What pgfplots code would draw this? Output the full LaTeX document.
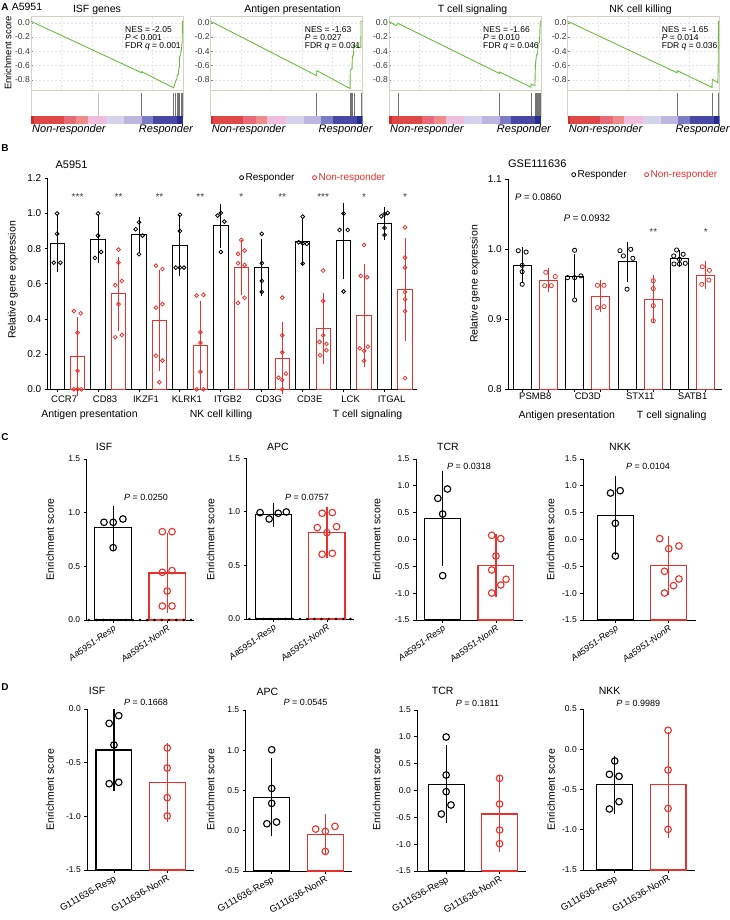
\documentclass[border=0pt]{standalone}
\usepackage{pgfplots}
\pgfplotsset{compat=1.18}
\usepackage{fontspec}
\setmainfont{Liberation Sans}
\definecolor{myred}{HTML}{E8312C}
\definecolor{gsgreen}{HTML}{6ABD3C}
\definecolor{frm}{HTML}{D6D1C2}
\definecolor{cb1}{HTML}{D42A2A}
\definecolor{cb2}{HTML}{E04848}
\definecolor{cb3}{HTML}{E86A78}
\definecolor{cb4}{HTML}{EE8C8C}
\definecolor{cb5}{HTML}{F0BEDC}
\definecolor{cb6}{HTML}{D6D4EC}
\definecolor{cb7}{HTML}{BDB6DE}
\definecolor{cb8}{HTML}{7C7CC6}
\definecolor{cb9}{HTML}{4A48A6}
\definecolor{cb10}{HTML}{262C90}
\newcommand\fs[1]{\fontsize{#1}{#1}\selectfont}
\newcommand\bbar[3]{\pgfmathsetmacro\xa{#1-\bw}\pgfmathsetmacro\xb{#1+\bw}%
 \edef\next{\noexpand\addplot[fill=white, draw=#3, line width=\blw, forget plot] coordinates {(\xa,\bbase) (\xa,#2) (\xb,#2) (\xb,\bbase) (\xa,\bbase)};}\next}
\newcommand\ebar[4]{\addplot[draw=#4, mark=none, forget plot, error bars/.cd, y dir=both, y explicit, error bar style={draw=#4, line width=\blw}, error mark options={draw=#4, line width=\blw, mark size=\capw}] coordinates {(#1,#2) +- (0,#3)};}
\newcommand\pts[2]{\addplot[only marks, mark=o, mark size=\ms, draw=#1, mark options={draw=#1, line width=\mlw}, forget plot] coordinates {#2};}
\newcommand\cb[3]{\addplot[fill=#3, draw=none] coordinates {(#1,0) (#2,0) (#2,1) (#1,1)};}
\newcommand\cbarplots{\cb{0}{0.018}{cb1}\cb{0.018}{0.215}{cb2}\cb{0.215}{0.298}{cb3}\cb{0.298}{0.373}{cb4}\cb{0.373}{0.496}{cb5}\cb{0.496}{0.614}{cb6}\cb{0.614}{0.728}{cb7}\cb{0.728}{0.803}{cb8}\cb{0.803}{0.961}{cb9}\cb{0.961}{1}{cb10}}
\newcommand\axisdots{\addplot[only marks, mark=*, mark size=1.1pt, black, forget plot] coordinates {(-0.45,0)(-0.315,0)(-0.18,0)(-0.045,0)(0.09,0)(0.225,0)(0.36,0)(0.495,0)(0.63,0)(0.765,0)(0.9,0)(1.035,0)(1.17,0)(1.305,0)(1.44,0)};}
\pgfplotsset{
 gsea/.style={scale only axis, anchor=south west, width=152pt, height=74.7pt, xmin=0, xmax=1, ymin=-0.95, ymax=0.094,
  axis line style={draw=frm, line width=0.7pt}, xtick={0.2,0.4,0.6,0.8}, xticklabels={}, xtick style={draw=none},
  ytick={-0.8,-0.6,-0.4,-0.2,0}, ytick pos=left, ytick style={draw=black!50, line width=0.4pt}, major tick length=2pt,
  yticklabel style={font=\fs{8.5}, text=black!80, /pgf/number format/fixed, /pgf/number format/fixed zerofill, /pgf/number format/precision=1, inner sep=1pt},
  /pgf/number format/assume math mode=true,
  grid=major, grid style={gray!20, dash pattern=on 2pt off 2pt}},
 hits/.style={scale only axis, anchor=south west, width=152pt, height=25.3pt, xmin=0, xmax=1, ymin=0, ymax=1, xtick=\empty, ytick=\empty, axis line style={draw=frm, line width=0.7pt}},
 cbar/.style={scale only axis, anchor=south west, width=152pt, height=8pt, xmin=0, xmax=1, ymin=0, ymax=1, hide axis},
 bstyle/.style={scale only axis, anchor=south west, axis x line*=bottom, axis y line*=left,
  axis line style={black, line width=0.9pt, -}, every tick/.style={black, line width=0.9pt}, tick align=outside, major tick length=3pt,
  clip=false, /pgf/number format/assume math mode=true,
  yticklabel style={/pgf/number format/fixed, /pgf/number format/fixed zerofill, /pgf/number format/precision=1}},
 cstyle/.style={bstyle, xtick={0,1}, yticklabel style={font=\fs{8.5}}},
 cticks/.style={xticklabels={Aa5951-Resp,Aa5951-NonR}, xticklabel style={font=\fs{9}\itshape, rotate=35, anchor=north east, inner sep=1pt}},
 dticks/.style={xticklabels={G111636-Resp,G111636-NonR}, xticklabel style={font=\fs{9.5}, rotate=30, anchor=north east, inner sep=1pt}}
}
\begin{document}
\begin{tikzpicture}
\useasboundingbox (0pt,0pt) rectangle (729pt,920pt);
% ===================== A =====================
\begin{axis}[gsea, at={(31pt,829.3pt)}]
\addplot[gsgreen, line width=0.9pt] coordinates {(0,0.02)(0.728,-0.70)(0.729,-0.685)(0.939,-0.91)(0.945,-0.86)(0.955,-0.80)(0.96,-0.78)(0.962,-0.73)(0.97,-0.72)(0.972,-0.65)(0.976,-0.62)(0.978,-0.48)(0.985,-0.45)(0.986,-0.40)(0.99,-0.38)(0.995,-0.25)(0.996,0.02)(1,0.02)};
\end{axis}
\begin{axis}[hits, at={(31pt,804pt)}]
\addplot[ycomb, gray!45, line width=0.6pt] coordinates {(0.445,0.9)};
\addplot[ycomb, black!55, line width=0.6pt] coordinates {(0.728,0.9)(0.939,0.9)(0.95,0.9)(0.961,0.9)(0.971,0.9)(0.978,0.9)(0.987,0.9)(0.996,0.9)};
\end{axis}
\begin{axis}[cbar, at={(31pt,796pt)}]\cbarplots\end{axis}

\begin{axis}[gsea, at={(210.7pt,829.3pt)}]
\addplot[gsgreen, line width=0.9pt] coordinates {(0,0.02)(0.697,-0.74)(0.698,-0.67)(0.917,-0.92)(0.918,-0.66)(0.93,-0.64)(0.932,-0.47)(0.94,-0.45)(0.942,-0.32)(0.955,-0.33)(0.96,-0.31)(0.975,-0.35)(0.988,-0.35)(0.989,0.02)(1,0.02)};
\end{axis}
\begin{axis}[hits, at={(210.7pt,804pt)}]
\addplot[ycomb, black!55, line width=0.6pt] coordinates {(0.697,0.9)(0.917,0.9)(0.928,0.9)(0.934,0.9)(0.943,0.9)(0.99,0.9)};
\end{axis}
\begin{axis}[cbar, at={(210.7pt,796pt)}]\cbarplots\end{axis}

\begin{axis}[gsea, at={(389pt,829.3pt)}]
\addplot[gsgreen, line width=0.9pt] coordinates {(0,0.02)(0.045,-0.04)(0.06,-0.01)(0.727,-0.71)(0.728,-0.69)(0.934,-0.90)(0.935,-0.86)(0.96,-0.88)(0.963,-0.60)(0.97,-0.45)(0.978,-0.44)(0.98,-0.29)(0.99,-0.28)(0.995,0.02)(1,0.02)};
\end{axis}
\begin{axis}[hits, at={(389pt,804pt)}]
\addplot[ycomb, black!55, line width=0.6pt] coordinates {(0.06,0.9)(0.727,0.9)(0.935,0.9)(0.96,0.9)(0.97,0.9)(0.975,0.9)(0.98,0.9)(0.99,0.9)(0.995,0.9)};
\end{axis}
\begin{axis}[cbar, at={(389pt,796pt)}]\cbarplots\end{axis}

\begin{axis}[gsea, at={(567.7pt,829.3pt)}]
\addplot[gsgreen, line width=0.9pt] coordinates {(0,0.02)(0.72,-0.70)(0.721,-0.67)(0.95,-0.905)(0.951,-0.79)(0.988,-0.84)(0.99,-0.60)(0.992,0.02)(1,0.02)};
\end{axis}
\begin{axis}[hits, at={(567.7pt,804pt)}]
\addplot[ycomb, black!55, line width=0.6pt] coordinates {(0.72,0.9)(0.95,0.9)(0.988,0.9)(0.992,0.9)};
\end{axis}
\begin{axis}[cbar, at={(567.7pt,796pt)}]\cbarplots\end{axis}

\node[font=\fs{10}\bfseries] at (5pt,913pt) {A};
\node[font=\fs{10.5}] at (27pt,913pt) {A5951};
\node[font=\fs{10.5}] at (97pt,910pt) {ISF genes};
\node[font=\fs{10.5}] at (292.5pt,910pt) {Antigen presentation};
\node[font=\fs{10.5}] at (472.5pt,910pt) {T cell signaling};
\node[font=\fs{10.5}] at (640.5pt,910pt) {NK cell killing};
\node[font=\fs{9.5}, rotate=90] at (8pt,867pt) {Enrichment score};
\foreach \L/\a/\b/\c in {31/{NES = -2.05}/{\textit{P} < 0.001}/{FDR \textit{q} = 0.001},
                         210.7/{NES = -1.63}/{\textit{P} = 0.027}/{FDR \textit{q} = 0.031},
                         389/{NES = -1.66}/{\textit{P} = 0.010}/{FDR \textit{q} = 0.046},
                         567.7/{NES = -1.65}/{\textit{P} = 0.014}/{FDR \textit{q} = 0.036}}{
  \node[font=\fontsize{8.5}{8.1}\selectfont, anchor=north west, align=left, inner sep=0pt] at (\L pt+94pt,893.9pt) {\a\\\b\\\c};
  \node[font=\fs{11}\itshape, anchor=west, inner sep=0pt] at (\L pt+1pt,790pt) {Non-responder};
  \node[font=\fs{11}\itshape, anchor=east, inner sep=0pt] at (\L pt+162pt,790pt) {Responder};
}
% ===================== B =====================
\def\bw{0.35}\def\bbase{0}\def\blw{0.9pt}\def\capw{4pt}\def\ms{1.9pt}\def\mlw{0.8pt}
\begin{axis}[bstyle, at={(47.7pt,530.7pt)}, width=369.6pt, height=211pt, xmin=-0.46, xmax=17.6, ymin=0, ymax=1.2,
 ytick={0,0.2,0.4,0.6,0.8,1.0,1.2}, yticklabel style={font=\fs{10}},
 xtick={0,2,4,6,8,10,12,14,16}, xticklabels={CCR7,CD83,IKZF1,KLRK1,ITGB2,CD3G,CD3E,LCK,ITGAL}, xticklabel style={font=\fs{9.5}, xshift=7pt},
 legend style={draw=none, fill=none, at={(0.719,1.003)}, anchor=center, font=\fs{10}, /tikz/every even column/.append style={column sep=16pt}}, legend columns=2]
\addlegendimage{only marks, mark=o, mark size=2pt, draw=black, mark options={line width=0.8pt}}
\addlegendentry{Responder}
\addlegendimage{only marks, mark=o, mark size=2pt, draw=myred, mark options={line width=0.8pt}}
\addlegendentry{\textcolor{myred}{Non-responder}}
\bbar{0}{0.83}{black}\bbar{1}{0.186}{myred}
\bbar{2}{0.853}{black}\bbar{3}{0.544}{myred}
\bbar{4}{0.878}{black}\bbar{5}{0.391}{myred}
\bbar{6}{0.819}{black}\bbar{7}{0.252}{myred}
\bbar{8}{0.929}{black}\bbar{9}{0.692}{myred}
\bbar{10}{0.694}{black}\bbar{11}{0.178}{myred}
\bbar{12}{0.842}{black}\bbar{13}{0.347}{myred}
\bbar{14}{0.844}{black}\bbar{15}{0.421}{myred}
\bbar{16}{0.942}{black}\bbar{17}{0.565}{myred}
\ebar{0}{0.83}{0.138}{black}\ebar{1}{0.186}{0.203}{myred}
\ebar{2}{0.853}{0.114}{black}\ebar{3}{0.544}{0.188}{myred}
\ebar{4}{0.878}{0.08}{black}\ebar{5}{0.391}{0.263}{myred}
\ebar{6}{0.819}{0.15}{black}\ebar{7}{0.252}{0.23}{myred}
\ebar{8}{0.929}{0.10}{black}\ebar{9}{0.692}{0.135}{myred}
\ebar{10}{0.694}{0.14}{black}\ebar{11}{0.178}{0.184}{myred}
\ebar{12}{0.842}{0.11}{black}\ebar{13}{0.347}{0.18}{myred}
\ebar{14}{0.844}{0.195}{black}\ebar{15}{0.421}{0.27}{myred}
\ebar{16}{0.942}{0.07}{black}\ebar{17}{0.565}{0.27}{myred}
\pts{black}{(0,1.0)(0,0.885)(-0.16,0.72)(0.16,0.72)}
\pts{myred}{(0.82,0.445)(1.15,0.432)(1,0.322)(1,0.105)(0.82,0)(1,0)(1.18,0)}
\pts{black}{(2,1.0)(2,0.874)(2.15,0.781)(1.85,0.747)}
\pts{myred}{(3,0.794)(3,0.72)(3.16,0.616)(2.84,0.592)(3,0.484)(2.84,0.296)(3.16,0.309)}
\pts{black}{(4,0.95)(3.84,0.91)(4.17,0.874)(4,0.768)}
\pts{myred}{(4.83,0.703)(5.15,0.684)(5.15,0.484)(4.83,0.465)(4.83,0.191)(5.15,0.163)(5,0.04)}
\pts{black}{(6,0.992)(6,0.9)(5.8,0.692)(6,0.692)(6.2,0.692)}
\pts{myred}{(6.82,0.533)(7.15,0.537)(7,0.324)(7,0.265)(7,0.1)(6.82,0)(7.15,0)}
\pts{black}{(7.84,0.988)(8,1.003)(8.17,0.954)(8,0.781)}
\pts{myred}{(9,0.849)(9.16,0.789)(8.84,0.77)(8.84,0.717)(9.16,0.707)(9.16,0.52)(8.84,0.491)}
\pts{black}{(10,0.884)(10,0.717)(10,0.616)(10,0.554)}
\pts{myred}{(11,0.521)(11,0.307)(11,0.21)(10.82,0.066)(11,0.053)(11.18,0.089)(11,0)}
\pts{black}{(12,0.982)(11.8,0.836)(12,0.83)(12.2,0.827)(12,0.715)}
\pts{myred}{(13,0.675)(13,0.502)(13,0.307)(12.82,0.27)(13.16,0.258)(13.16,0.222)(12.85,0.193)}
\pts{black}{(14,1.0)(13.8,0.906)(14.2,0.906)(14,0.556)}
\pts{myred}{(15,0.821)(14.84,0.645)(15.15,0.637)(14.79,0.233)(15,0.219)(15.18,0.242)(15,0.163)}
\pts{black}{(16.15,1.003)(16,0.997)(15.84,0.984)(16,0.918)(16,0.878)}
\pts{myred}{(17,0.921)(17,0.749)(17,0.692)(17,0.552)(17,0.512)(17,0.444)(17,0.063)}
\foreach \x/\s in {1/***,3/**,5/**,7/**,9/*,11/**,13/***,15/*,17/*}{
 \edef\tmp{\noexpand\node[font=\noexpand\fs{10}, text=black!75] at (axis cs:\x,1.095) {\s};}\tmp}
\end{axis}

\def\bw{0.344}\def\bbase{0.8}\def\blw{0.9pt}\def\capw{4.5pt}\def\ms{2.1pt}\def\mlw{0.8pt}
\begin{axis}[bstyle, at={(508.3pt,530.7pt)}, width=213.4pt, height=210pt, xmin=-0.53, xmax=7.61, ymin=0.8, ymax=1.1,
 ytick={0.8,0.9,1.0,1.1}, yticklabel style={font=\fs{10}},
 xtick={0,1,2,3,4,5,6,7}, xticklabels={}, extra x ticks={0.5,2.5,4.5,6.5}, extra x tick labels={PSMB8,CD3D,STX11,SATB1},
 extra x tick style={major tick length=0pt, xticklabel style={font=\fs{9.5}}},
 legend style={draw=none, fill=none, at={(0.643,1.022)}, anchor=center, font=\fs{10}, /tikz/every even column/.append style={column sep=16pt}}, legend columns=2]
\addlegendimage{only marks, mark=o, mark size=2pt, draw=black, mark options={line width=0.8pt}}
\addlegendentry{Responder}
\addlegendimage{only marks, mark=o, mark size=2pt, draw=myred, mark options={line width=0.8pt}}
\addlegendentry{\textcolor{myred}{Non-responder}}
\bbar{0}{0.9776}{black}\bbar{1}{0.956}{myred}
\bbar{2}{0.9619}{black}\bbar{3}{0.9333}{myred}
\bbar{4}{0.9824}{black}\bbar{5}{0.929}{myred}
\bbar{6}{0.9871}{black}\bbar{7}{0.9633}{myred}
\ebar{0}{0.9776}{0.019}{black}\ebar{1}{0.956}{0.0105}{myred}
\ebar{2}{0.9619}{0.025}{black}\ebar{3}{0.9333}{0.017}{myred}
\ebar{4}{0.9824}{0.022}{black}\ebar{5}{0.929}{0.028}{myred}
\ebar{6}{0.9871}{0.006}{black}\ebar{7}{0.9633}{0.013}{myred}
\pts{black}{(-0.15,0.998)(0.15,0.996)(0,0.977)(0,0.968)(0,0.95)}
\pts{myred}{(0.9,0.967)(1.26,0.961)(0.86,0.948)(1.11,0.948)}
\pts{black}{(1.73,0.9595)(2,0.9595)(2.24,0.962)(2,0.9986)(2,0.9276)}
\pts{myred}{(2.87,0.9486)(3.12,0.9486)(2.87,0.9167)(3.12,0.918)}
\pts{black}{(3.73,0.998)(4.14,1.0)(3.86,0.9905)(4.22,0.9871)(4,0.943)}
\pts{myred}{(5,0.955)(5,0.9438)(5,0.9195)(5,0.898)}
\pts{black}{(5.89,0.999)(6.14,0.9929)(5.78,0.9905)(6,0.9857)(5.79,0.979)(6.22,0.98)(6,0.979)}
\pts{myred}{(6.87,0.975)(7.14,0.97)(6.85,0.95)(7.12,0.956)}
\node[font=\fs{10}, text=black!75] at (axis cs:5,1.025) {**};
\node[font=\fs{10}, text=black!75] at (axis cs:7,1.025) {*};
\end{axis}
\node[font=\fs{10}\bfseries] at (5pt,772pt) {B};
\node[font=\fs{11}] at (71.5pt,755pt) {A5951};
\node[font=\fs{11}] at (537.3pt,756pt) {GSE111636};
\node[font=\fs{10.5}, rotate=90] at (13pt,640pt) {Relative gene expression};
\node[font=\fs{10.5}, rotate=90] at (475pt,636pt) {Relative gene expression};
\node[font=\fs{10.5}] at (89.5pt,505pt) {Antigen presentation};
\node[font=\fs{10.5}] at (221pt,505pt) {NK cell killing};
\node[font=\fs{10.5}] at (367.5pt,505pt) {T cell signaling};
\node[font=\fs{10.5}] at (566.8pt,504.3pt) {Antigen presentation};
\node[font=\fs{10.5}] at (671.7pt,504.3pt) {T cell signaling};
\node[font=\fs{9.5}] at (538.3pt,722.7pt) {\textit{P} = 0.0860};
\node[font=\fs{9.5}] at (587pt,701.3pt) {\textit{P} = 0.0932};
% ===================== C =====================
\def\bw{0.3375}\def\blw{1.1pt}\def\capw{9pt}\def\ms{3.3pt}\def\mlw{1.1pt}
\def\bbase{0}
\begin{axis}[cstyle, cticks, at={(86.7pt,300pt)}, width=107.5pt, height=161pt, xmin=-0.49, xmax=1.5, ymin=0, ymax=1.5, ytick={0,0.5,1.0,1.5}]
\bbar{0}{0.859}{black}\bbar{1}{0.438}{myred}
\ebar{0}{0.859}{0.122}{black}\ebar{1}{0.438}{0.29}{myred}
\pts{black}{(-0.17,0.91)(0,0.91)(0.18,0.941)(0,0.674)}
\pts{myred}{(0.91,0.823)(1.09,0.823)(0.91,0.444)(1.09,0.46)(1,0.27)(0.91,0.13)(1.09,0.13)}
\axisdots
\end{axis}
\begin{axis}[cstyle, cticks, at={(246.7pt,301pt)}, width=107pt, height=160.7pt, xmin=-0.5, xmax=1.5, ymin=0, ymax=1.5, ytick={0,0.5,1.0,1.5}]
\bbar{0}{0.974}{black}\bbar{1}{0.806}{myred}
\ebar{0}{0.974}{0.028}{black}\ebar{1}{0.806}{0.155}{myred}
\pts{black}{(-0.25,0.993)(-0.08,0.934)(0.09,0.987)(0.24,0.999)}
\pts{myred}{(0.91,0.987)(1.1,0.993)(0.82,0.853)(1.18,0.862)(1,0.806)(0.91,0.604)(1.1,0.613)}
\axisdots
\end{axis}
\def\bbase{-1.5}
\begin{axis}[cstyle, cticks, at={(416pt,300pt)}, width=106.6pt, height=161pt, xmin=-0.5, xmax=1.5, ymin=-1.5, ymax=1.5, ytick={-1.5,-1,-0.5,0,0.5,1,1.5}]
\bbar{0}{0.388}{black}\bbar{1}{-0.481}{myred}
\ebar{0}{0.388}{0.714}{black}\ebar{1}{-0.481}{0.416}{myred}
\pts{black}{(-0.09,0.767)(0.09,0.941)(0,0.475)(0,-0.674)}
\pts{myred}{(0.92,0.078)(1.09,0.016)(1,-0.307)(0.92,-0.568)(1.19,-0.742)(1.09,-0.848)(0.92,-0.997)}
\end{axis}
\begin{axis}[cstyle, cticks, at={(583.3pt,300pt)}, width=112.7pt, height=161pt, xmin=-0.6, xmax=1.51, ymin=-1.5, ymax=1.5, ytick={-1.5,-1,-0.5,0,0.5,1,1.5}]
\bbar{0}{0.444}{black}\bbar{1}{-0.488}{myred}
\ebar{0}{0.444}{0.57}{black}\ebar{1}{-0.488}{0.385}{myred}
\pts{black}{(-0.09,0.866)(0.09,0.91)(0,0.301)(0,-0.307)}
\pts{myred}{(0.83,0.016)(1.19,-0.121)(1,-0.171)(0.92,-0.593)(1.19,-0.736)(1.09,-0.86)(0.92,-0.997)}
\end{axis}
\node[font=\fs{10}\bfseries] at (5pt,483pt) {C};
\node[font=\fs{10.5}] at (104pt,473.3pt) {ISF};
\node[font=\fs{10.5}] at (278pt,473.3pt) {APC};
\node[font=\fs{10.5}] at (448pt,473.3pt) {TCR};
\node[font=\fs{10.5}] at (620pt,473.3pt) {NKK};
\node[font=\fs{9}] at (146pt,422.7pt) {\textit{P} = 0.0250};
\node[font=\fs{9}] at (307pt,422.7pt) {\textit{P} = 0.0757};
\node[font=\fs{9}] at (469pt,453.3pt) {\textit{P} = 0.0318};
\node[font=\fs{9}] at (648pt,453.3pt) {\textit{P} = 0.0104};
\foreach \x in {50,210.7,376.7,550.7}{\node[font=\fs{10.5}, rotate=90] at (\x pt,380.5pt) {Enrichment score};}
% ===================== D =====================
\def\bbase{-1.5}
\begin{axis}[cstyle, dticks, at={(87.3pt,50pt)}, width=106.6pt, height=161pt, xmin=-0.5, xmax=1.5, ymin=-1.5, ymax=0, ytick={-1.5,-1,-0.5,0}]
\bbar{0}{-0.382}{black}\bbar{1}{-0.686}{myred}
\ebar{0}{-0.382}{0.295}{black}\ebar{1}{-0.686}{0.286}{myred}
\pts{black}{(0.09,-0.062)(-0.09,-0.134)(0,-0.335)(-0.09,-0.696)(0.09,-0.683)}
\pts{myred}{(1,-0.363)(1,-0.55)(1,-0.826)(1,-0.997)}
\end{axis}
\def\bbase{-0.5}
\begin{axis}[cstyle, dticks, at={(245.7pt,49pt)}, width=106.4pt, height=161pt, xmin=-0.485, xmax=1.5, ymin=-0.5, ymax=1.5, ytick={-0.5,0,0.5,1,1.5}]
\bbar{0}{0.414}{black}\bbar{1}{-0.05}{myred}
\ebar{0}{0.414}{0.373}{black}\ebar{1}{-0.05}{0.141}{myred}
\pts{black}{(0,1.006)(0,0.526)(0,0.34)(-0.09,0.087)(0.09,0.108)}
\pts{myred}{(0.82,0.021)(1.18,0.054)(1,-0.008)(1,-0.257)}
\end{axis}
\def\bbase{-1.5}
\begin{axis}[cstyle, dticks, at={(417.3pt,49pt)}, width=109pt, height=161pt, xmin=-0.54, xmax=1.5, ymin=-1.5, ymax=1.5, ytick={-1.5,-1,-0.5,0,0.5,1,1.5}]
\bbar{0}{0.115}{black}\bbar{1}{-0.438}{myred}
\ebar{0}{0.115}{0.559}{black}\ebar{1}{-0.438}{0.534}{myred}
\pts{black}{(0,0.997)(0,0.289)(0,-0.022)(0.09,-0.27)(-0.09,-0.438)}
\pts{myred}{(1,0.227)(1,-0.252)(1,-0.736)(1,-0.991)}
\end{axis}
\begin{axis}[cstyle, dticks, at={(583.3pt,50pt)}, width=111.4pt, height=161pt, xmin=-0.59, xmax=1.5, ymin=-1.5, ymax=0.5, ytick={-1.5,-1,-0.5,0,0.5}]
\bbar{0}{-0.44}{black}\bbar{1}{-0.44}{myred}
\ebar{0}{-0.44}{0.248}{black}\ebar{1}{-0.44}{0.546}{myred}
\pts{black}{(0,-0.146)(-0.1,-0.312)(0.08,-0.336)(0.08,-0.651)(-0.1,-0.742)}
\pts{myred}{(1,0.235)(1,-0.258)(1,-0.735)(1,-0.995)}
\end{axis}
\node[font=\fs{10}\bfseries] at (5pt,233pt) {D};
\node[font=\fs{10.5}] at (97pt,229.3pt) {ISF};
\node[font=\fs{10.5}] at (267.5pt,228.3pt) {APC};
\node[font=\fs{10.5}] at (442.7pt,229.3pt) {TCR};
\node[font=\fs{10.5}] at (609.7pt,229pt) {NKK};
\node[font=\fs{9}] at (146pt,217.3pt) {\textit{P} = 0.1668};
\node[font=\fs{9}] at (305.5pt,217.3pt) {\textit{P} = 0.0545};
\node[font=\fs{9}] at (477.5pt,216.7pt) {\textit{P} = 0.1811};
\node[font=\fs{9}] at (638.3pt,217pt) {\textit{P} = 0.9989};
\foreach \x in {50,210.7,376.7,551}{\node[font=\fs{10.5}, rotate=90] at (\x pt,130.5pt) {Enrichment score};}
\end{tikzpicture}
\end{document}
